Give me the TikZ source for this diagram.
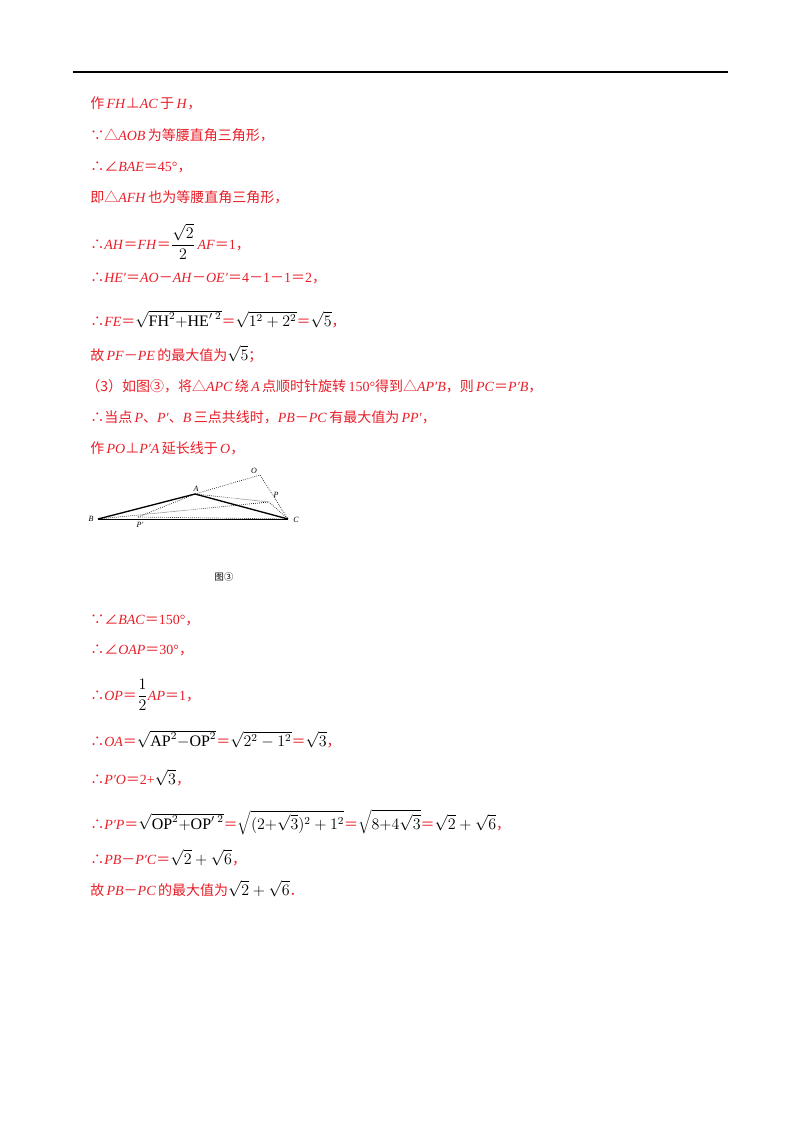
\documentclass[tikz,border=0pt]{standalone}
\usepackage{fontspec}
\setmainfont{Liberation Serif}
\newfontfamily\cjk{Noto Sans CJK SC}
\definecolor{rd}{RGB}{232,30,40}
\newcommand{\zh}[1]{{\cjk #1}}
\newcommand{\blk}[1]{\textcolor{black}{\fontsize{12}{14}\selectfont#1}}
\newcommand{\eqz}{{\cjk ＝}}
\newcommand{\mnz}{{\cjk －}}
\newcommand{\perpz}{{\cjk ⊥}}
\begin{document}
\begin{tikzpicture}[x=0.75pt,y=-0.75pt,
  ln/.style={anchor=base west,inner sep=0pt,text=rd,font=\fontsize{10.5}{12}\selectfont},
  lbl/.style={font=\fontsize{6}{7}\selectfont\itshape,inner sep=0pt},
  thick1/.style={line width=1pt},
  dots/.style={densely dotted,line width=0.5pt}]
\useasboundingbox (0,0) rectangle (800,1132);
\draw[line width=1.2pt] (73,72) -- (728,72);
\node[ln] (l1) at (90,108) {\zh{作}\,\textit{FH}\perpz\textit{AC}\,\zh{于}\,\textit{H}\zh{，}};
\node[ln] (l2) at (90,140) {\zh{∵△}\textit{AOB}\,\zh{为等腰直角三角形，}};
\node[ln] (l3) at (90,171) {\zh{∴∠}\textit{BAE}\eqz 45°\zh{，}};
\node[ln] (l4) at (90,202) {\zh{即△}\textit{AFH}\,\zh{也为等腰直角三角形，}};
\node[ln] (l5) at (90,249) {\zh{∴}\textit{AH}\eqz\textit{FH}\eqz\blk{$\displaystyle\frac{\sqrt2}{2}$}\,\textit{AF}\eqz 1\zh{，}};
\node[ln] (l6) at (90,282) {\zh{∴}\textit{HE′}\eqz\textit{AO}\mnz\textit{AH}\mnz\textit{OE′}\eqz 4\mnz 1\mnz 1\eqz 2\zh{，}};
\node[ln] (l7) at (90,326) {\zh{∴}\textit{FE}\eqz\blk{$\sqrt{\mathrm{FH}^2{+}\mathrm{HE}'^{\;2}}$}\eqz\blk{$\sqrt{1^2+2^2}$}\eqz\blk{$\sqrt5$}\zh{，}};
\node[ln] (l8) at (90,360) {\zh{故}\,\textit{PF}\mnz\textit{PE}\,\zh{的最大值为}\blk{$\sqrt5$}\zh{；}};
\node[ln] (l9) at (86,391) {\zh{（3）如图③，将△}\textit{APC}\,\zh{绕}\,\textit{A}\,\zh{点顺时针旋转}\,150°\zh{得到△}\textit{AP′B}\zh{，则}\,\textit{PC}\eqz\textit{P′B}\zh{，}};
\node[ln] (l10) at (90,422) {\zh{∴当点}\,\textit{P}\zh{、}\textit{P′}\zh{、}\textit{B}\,\zh{三点共线时，}\textit{PB}\mnz\textit{PC}\,\zh{有最大值为}\,\textit{PP′}\zh{，}};
\node[ln] (l11) at (90,453) {\zh{作}\,\textit{PO}\perpz\textit{P′A}\,\zh{延长线于}\,\textit{O}\zh{，}};
% figure
\coordinate (B) at (98,519);
\coordinate (A) at (195,494);
\coordinate (O) at (260,475);
\coordinate (P) at (269,502);
\coordinate (C) at (288,519);
\coordinate (Q) at (138,517);
\draw[thick1] (B) -- (A) -- (C);
\draw[line width=0.6pt] (B) -- (C);
\draw[dots] (A) -- (O) -- (C);
\draw[dots] (A) -- (P) -- (C);
\draw[dots] (B) -- (P);
\draw[dots] (Q) -- (A);
\draw[dots] (Q) -- (C);
\node[lbl] (nB) at (91,519) {B};
\node[lbl] (nA) at (196,489) {A};
\node[lbl] (nO) at (254,471) {O};
\node[lbl] (nP) at (276,495) {P};
\node[lbl] (nC) at (296,520) {C};
\node[lbl] (nQ) at (140,525) {P′};
\node[font=\fontsize{7}{8}\selectfont\cjk,inner sep=0pt] (cap) at (224,577) {图③};
\node[ln] (l12) at (90,624) {\zh{∵∠}\textit{BAC}\eqz 150°\zh{，}};
\node[ln] (l13) at (90,654) {\zh{∴∠}\textit{OAP}\eqz 30°\zh{，}};
\node[ln] (l14) at (90,700) {\zh{∴}\textit{OP}\eqz\blk{$\displaystyle\frac{1}{2}$}\textit{AP}\eqz 1\zh{，}};
\node[ln] (l15) at (90,746) {\zh{∴}\textit{OA}\eqz\blk{$\sqrt{\mathrm{AP}^2{-}\mathrm{OP}^2}$}\eqz\blk{$\sqrt{2^2-1^2}$}\eqz\blk{$\sqrt3$}\zh{，}};
\node[ln] (l16) at (90,784) {\zh{∴}\textit{P′O}\eqz 2+\blk{$\sqrt3$}\zh{，}};
\node[ln] (l17) at (90,829) {\zh{∴}\textit{P′P}\eqz\blk{$\sqrt{\mathrm{OP}^2{+}\mathrm{OP}'^{\;2}}$}\eqz\blk{$\sqrt{(2{+}\sqrt3)^2+1^2}$}\eqz\blk{$\sqrt{8{+}4\sqrt3}$}\eqz\blk{$\sqrt2+\sqrt6$}\zh{，}};
\node[ln] (l18) at (90,864) {\zh{∴}\textit{PB}\mnz\textit{P′C}\eqz\blk{$\sqrt2+\sqrt6$}\zh{，}};
\node[ln] (l19) at (90,895) {\zh{故}\,\textit{PB}\mnz\textit{PC}\,\zh{的最大值为}\blk{$\sqrt2+\sqrt6$}\zh{．}};
\end{tikzpicture}
\end{document}
